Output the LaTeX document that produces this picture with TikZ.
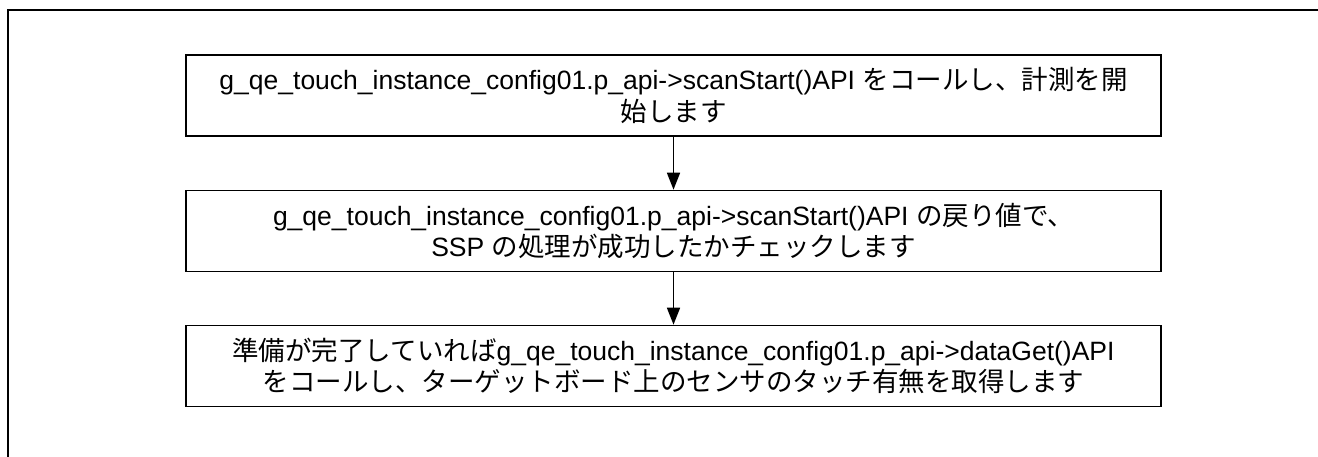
\documentclass[tikz,border=0pt]{standalone}
\usepackage{fontspec}
\setmainfont{Liberation Sans}
\newfontfamily\jp{Noto Sans CJK JP}
\usetikzlibrary{arrows.meta}
\tikzset{
  stepbox/.style={draw=black, line width=1.6pt, minimum width=975pt, minimum height=81pt,
    inner sep=0pt, align=center, font=\fontsize{26.5}{31.5}\selectfont},
  flow/.style={line width=1.6pt, -{Triangle[length=17pt,width=13pt]}},
  frame/.style={line width=2.6pt}
}
\begin{document}
\begin{tikzpicture}[x=1pt,y=-1pt]
\useasboundingbox (0,0) rectangle (1318,457);
\draw[frame] (8,458) -- (8,10) -- (1319,10);
\node[stepbox] (s1) at (673.5,95.5) {g\_qe\_touch\_instance\_config01.p\_api->scanStart()API {\jp をコールし、計測を開}\\{\jp 始します}};
\node[stepbox] (s2) at (673.5,231) {g\_qe\_touch\_instance\_config01.p\_api->scanStart()API {\jp の戻り値で、}\\SSP {\jp の処理が成功したかチェックします}};
\node[stepbox] (s3) at (673.5,366) {{\jp 準備が完了していれば}g\_qe\_touch\_instance\_config01.p\_api->dataGet()API\\{\jp をコールし、ターゲットボード上のセンサのタッチ有無を取得します}};
\draw[flow] (s1) -- (s2);
\draw[flow] (s2) -- (s3);
\end{tikzpicture}
\end{document}
